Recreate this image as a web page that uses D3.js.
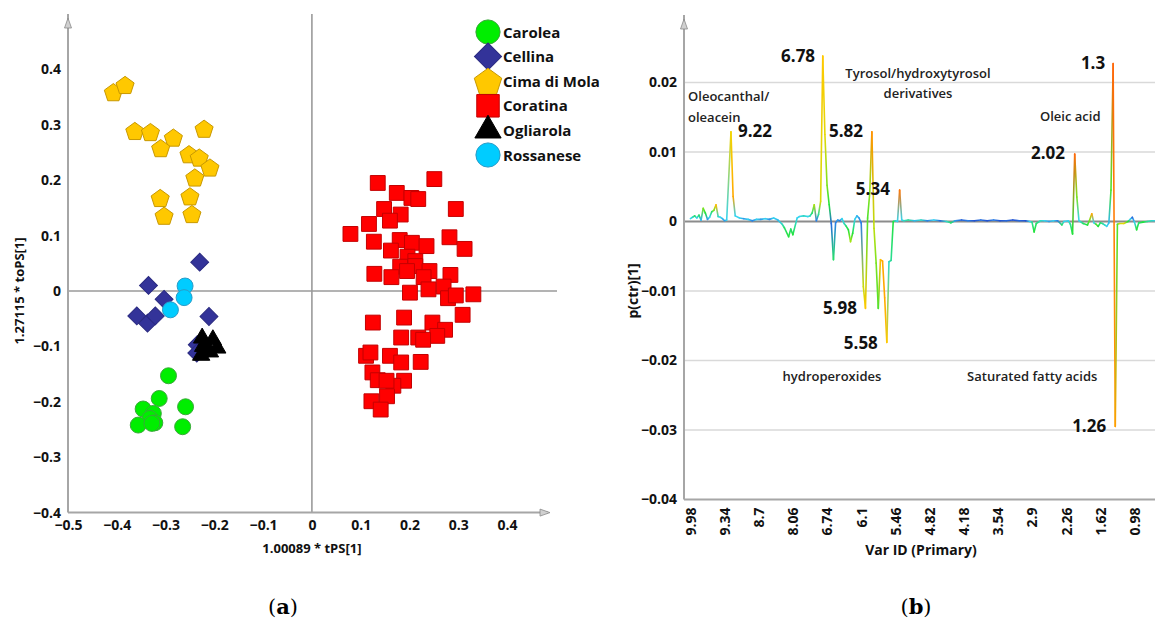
<!DOCTYPE html>
<html>
<head>
<meta charset="utf-8">
<script src="https://cdn.jsdelivr.net/npm/d3@7"></script>
<style>
  body { margin: 0; background: #fff; }
</style>
</head>
<body>
<svg id="chart"></svg>
<script>
// ---- data: (a) OPLS-DA score plot ----
const cultivars = ["Carolea", "Cellina", "Cima di Mola", "Coratina", "Ogliarola", "Rossanese"];

const carolea = [[-0.294,-0.153],[-0.313,-0.194],[-0.346,-0.213],[-0.259,-0.209],[-0.325,-0.221],
  [-0.332,-0.230],[-0.322,-0.238],[-0.356,-0.242],[-0.265,-0.245],[-0.328,-0.239]];
const cellina = [[-0.230,0.052],[-0.335,0.010],[-0.303,-0.015],[-0.359,-0.045],[-0.337,-0.058],
  [-0.321,-0.045],[-0.211,-0.046],[-0.235,-0.097],[-0.236,-0.112]];
const cimaDiMola = [[-0.407,0.359],[-0.383,0.372],[-0.363,0.289],[-0.331,0.287],[-0.221,0.293],
  [-0.284,0.277],[-0.310,0.258],[-0.252,0.247],[-0.231,0.241],[-0.209,0.223],[-0.240,0.205],
  [-0.311,0.168],[-0.250,0.171],[-0.303,0.136],[-0.246,0.139]];
const coratina = [[0.135,0.195],[0.251,0.202],[0.174,0.177],[0.204,0.168],[0.218,0.166],[0.295,0.148],
  [0.148,0.148],[0.182,0.138],[0.160,0.127],[0.117,0.121],[0.079,0.103],[0.127,0.089],[0.180,0.092],
  [0.205,0.087],[0.235,0.081],[0.282,0.097],[0.313,0.076],[0.162,0.073],[0.196,0.062],[0.212,0.054],
  [0.181,0.044],[0.212,0.045],[0.241,0.036],[0.128,0.031],[0.163,0.025],[0.195,0.036],[0.229,0.025],
  [0.284,0.029],[0.270,0.008],[0.201,-0.003],[0.239,0.003],[0.279,-0.013],[0.295,-0.008],[0.331,-0.006],
  [0.309,-0.043],[0.125,-0.057],[0.189,-0.048],[0.247,-0.057],[0.273,-0.070],[0.183,-0.084],
  [0.218,-0.084],[0.257,-0.081],[0.228,-0.088],[0.111,-0.117],[0.120,-0.111],[0.160,-0.117],
  [0.183,-0.129],[0.223,-0.128],[0.124,-0.147],[0.135,-0.161],[0.189,-0.162],[0.167,-0.171],
  [0.153,-0.162],[0.122,-0.199],[0.154,-0.190],[0.141,-0.214]];
const ogliarola = [[-0.225,-0.085],[-0.203,-0.088],[-0.194,-0.103],[-0.216,-0.106],[-0.227,-0.116],
  [-0.209,-0.110],[-0.223,-0.100]];
const rossanese = [[-0.260,0.009],[-0.262,-0.012],[-0.290,-0.034]];

const scoreTicksX = [-0.5, -0.4, -0.3, -0.2, -0.1, 0, 0.1, 0.2, 0.3, 0.4];
const scoreTicksY = [-0.4, -0.3, -0.2, -0.1, 0, 0.1, 0.2, 0.3, 0.4];

// ---- data: (b) loading line plot, [var index, p(ctr), colour level] ----
const varTickIndex = [0, 16, 32, 48, 64, 80, 96, 112, 128, 144, 160, 176, 192, 208];
const varTickLabels = ["9.98","9.34","8.7","8.06","6.74","6.1","5.46","4.82","4.18","3.54","2.9","2.26","1.62","0.98"];
const loadTicks = [-0.04, -0.03, -0.02, -0.01, 0, 0.01, 0.02];

const spectrum = [
  [0,0.0004,0.3],[1,0.0006,0.35],[2,0.0008,0.45],[3,0.0005,0.3],[4,0.0009,0.45],[5,0.0002,0.25],
  [6,0.0019,0.6],[7,0.0012,0.5],[8,0.0003,0.2],[9,0.0006,0.3],[10,0.0014,0.45],[11,0.0016,0.6],
  [12,0.0024,0.82],[13,0.0007,0.35],[14,0.0006,0.3],[15,0.0004,0.25],[16,0.0001,0.2],[17,0.0002,0.3],
  [19,0.0129,0.76],[20,0.0036,0.86],[21,0.0008,0.3],[23,0.0005,0.3],[25,0.0004,0.2],[27,0.0003,0.3],
  [29,0.0001,0.15],[31,0.0003,0.3],[33,0.0003,0.2],[35,0.0004,0.3],[37,0.0003,0.18],[39,0.0005,0.3],
  [41,0.0002,0.25],[43,-0.0004,0.35],[44,-0.0009,0.45],[46,-0.0022,0.5],[47,-0.0011,0.45],
  [48,-0.0019,0.5],[50,0.0005,0.3],[51,0.0007,0.3],[53,0.0008,0.35],[55,0.0007,0.3],[56,0.0008,0.35],
  [57,0.0012,0.45],[58,0.0024,0.65],[59,0.0001,0.15],[60,0.0010,0.4],[61,0.0029,0.72],
  [62,0.0238,0.8],[63,0.0125,0.74],[64,0.0052,0.6],[65,0.0024,0.5],[66,-0.0003,0.1],
  [67,-0.0055,0.45],[68,-0.0002,0.15],[69,0.0002,0.2],[70,0.0001,0.15],[71,0.0004,0.3],
  [72,-0.0003,0.35],[73,-0.0007,0.45],[74,-0.0012,0.5],[75,-0.0029,0.65],[76,-0.0017,0.5],
  [77,0.0003,0.3],[78,0.0008,0.25],[79,0.0005,0.2],[80,-0.0002,0.15],[81,-0.0094,0.7],
  [82,-0.0125,0.8],[83,0.0005,0.55],[84,0.0041,0.62],[85,0.0129,0.9],[86,-0.0010,0.68],
  [87,-0.0060,0.6],[88,-0.0125,0.55],[89,-0.0055,0.82],[90,-0.0057,0.86],[91,-0.0110,0.86],
  [92,-0.0174,0.8],[93,-0.0058,0.35],[94,-0.0056,0.4],[95,0.0000,0.5],[96,0.0001,0.35],
  [97,0.0000,0.3],[98,0.0045,0.94],[99,0.0002,0.3],
  [100,0.0001,0.35],[102,0.0002,0.4],[105,0.0001,0.25],[108,0.0002,0.35],[111,0.0001,0.15],
  [114,0.0002,0.3],[117,0.0001,0.1],[120,0.0000,0.35],[122,-0.0002,0.45],[124,0.0001,0.2],
  [127,0.0002,0.08],[130,0.0001,0.15],[133,0.0001,0.05],[136,0.0002,0.12],[139,0.0001,0.05],
  [142,0.0002,0.15],[145,0.0001,0.05],[148,0.0001,0.1],[151,0.0002,0.05],[154,0.0001,0.1],
  [157,0.0001,0.05],[159,0.0000,0.3],[160,-0.0001,0.4],[161,-0.0015,0.5],[162,-0.0003,0.45],
  [164,0.0001,0.35],[166,0.0001,0.3],[168,0.0000,0.2],[170,0.0001,0.3],[172,0.0001,0.15],
  [174,-0.0005,0.45],[175,0.0000,0.3],[177,0.0001,0.3],[178,-0.0004,0.4],[179,-0.0018,0.5],
  [180,0.0097,0.96],[181,0.0035,0.6],[182,0.0001,0.3],[184,-0.0003,0.45],[186,-0.0005,0.5],
  [187,0.0002,0.6],[188,0.0011,0.86],[189,-0.0002,0.3],[190,-0.0004,0.55],[191,-0.0007,0.5],
  [192,-0.0002,0.45],[193,-0.0003,0.4],[194,-0.0005,0.35],[195,-0.0007,0.3],[196,-0.0002,0.25],
  [197,0.0045,0.55],[198,0.0227,0.96],[199,-0.0295,0.88],[200,-0.0004,0.55],[201,-0.0003,0.7],
  [203,-0.0003,0.75],[205,0.0000,0.5],[206,0.0003,0.3],[207,0.0006,0.1],[208,-0.0001,0.3],
  [209,-0.0012,0.5],[210,-0.0002,0.45],[212,-0.0001,0.5],[214,0.0000,0.4],[216,0.0001,0.35],
  [218,0.0001,0.3]
];

// annotation texts placed in data units [var index, p(ctr)]
const peakLabels = [
  { t: "9.22", i: 22.3, v: 0.0122, a: "start" },
  { t: "6.78", i: 58.4, v: 0.0229, a: "end" },
  { t: "5.82", i: 64.9, v: 0.0122, a: "start" },
  { t: "5.34", i: 77.5, v: 0.0038, a: "start" },
  { t: "5.98", i: 78.0, v: -0.0133, a: "end" },
  { t: "5.58", i: 87.8, v: -0.0183, a: "end" },
  { t: "2.02", i: 159.5, v: 0.0090, a: "start" },
  { t: "1.3", i: 182.9, v: 0.0219, a: "start" },
  { t: "1.26", i: 178.8, v: -0.0303, a: "start" }
];
const groupLabels = [
  { t: "Oleocanthal/", i: -1.1, v: 0.0173, a: "start" },
  { t: "oleacein", i: -1.1, v: 0.0143, a: "start" },
  { t: "Tyrosol/hydroxytyrosol", i: 106.6, v: 0.0206, a: "middle" },
  { t: "derivatives", i: 106.6, v: 0.0178, a: "middle" },
  { t: "Oleic acid", i: 177.9, v: 0.0145, a: "middle" },
  { t: "hydroperoxides", i: 66.3, v: -0.0230, a: "middle" },
  { t: "Saturated fatty acids", i: 160.1, v: -0.0230, a: "middle" }
];

// ---- render ----
const W = 1155, H = 628;
const FONT = '"Open Sans", "Noto Sans", "DejaVu Sans", sans-serif';
const AXIS = "#a6a6a6";

const svg = d3.select("#chart")
  .attr("width", W).attr("height", H)
  .style("font-family", FONT);

svg.append("rect").attr("width", W).attr("height", H).attr("fill", "#fff");

function arrowUp(g, x, y) {
  g.append("path")
    .attr("d", `M${x},${y} L${x - 3.5},${y + 10} L${x + 3.5},${y + 10} Z`)
    .attr("fill", "#d0d0d0").attr("stroke", "#8a8a8a").attr("stroke-width", 0.8);
}
function arrowRight(g, x, y) {
  g.append("path")
    .attr("d", `M${x},${y} L${x - 10},${y - 3.5} L${x - 10},${y + 3.5} Z`)
    .attr("fill", "#d0d0d0").attr("stroke", "#8a8a8a").attr("stroke-width", 0.8);
}

// ======== (a) score plot ========
const xA = d3.scaleLinear().domain([-0.5, 0.484]).range([68, 548]);
const yA = d3.scaleLinear().domain([-0.4, 0.5]).range([512.6, 14]);
const gA = svg.append("g");

// zero lines
gA.append("line").attr("x1", xA(0)).attr("x2", xA(0)).attr("y1", yA(0.5)).attr("y2", yA(-0.4))
  .attr("stroke", "#9a9a9a").attr("stroke-width", 1.6);
gA.append("line").attr("x1", xA(-0.5)).attr("x2", 557).attr("y1", yA(0)).attr("y2", yA(0))
  .attr("stroke", "#9a9a9a").attr("stroke-width", 1.6);

// axes
const axLeft = gA.append("g").attr("transform", `translate(${xA(-0.5)},0)`)
  .call(d3.axisLeft(yA).tickValues(scoreTicksY).tickSize(0).tickPadding(7)
    .tickFormat(d => d === 0 ? "0" : d3.format(".1f")(d)));
const axBottom = gA.append("g").attr("transform", `translate(0,${yA(-0.4)})`)
  .call(d3.axisBottom(xA).tickValues(scoreTicksX).tickSize(0).tickPadding(7)
    .tickFormat(d => d === 0 ? "0" : d3.format(".1f")(d)));
[axLeft, axBottom].forEach(a => {
  a.select(".domain").attr("stroke", AXIS).attr("stroke-width", 2);
  a.selectAll("text").attr("font-family", FONT).attr("font-size", 14)
    .attr("font-weight", 700).attr("fill", "#111");
});
axLeft.select(".domain").attr("d", `M0,${yA(-0.4)}V${yA(0.5)}`);
axBottom.select(".domain").attr("d", `M${xA(-0.5)},0H${xA(0.484)}`);
arrowUp(gA, xA(-0.5), yA(0.5) + 4);
arrowRight(gA, xA(0.484) + 2, yA(-0.4));

gA.append("text").attr("x", xA(0)).attr("y", 553).attr("text-anchor", "middle")
  .attr("font-size", 13).attr("font-weight", 700).attr("fill", "#111")
  .text("1.00089 * tPS[1]");
gA.append("text").attr("transform", `translate(24,${yA(0)}) rotate(-90)`)
  .attr("text-anchor", "middle").attr("font-size", 13).attr("font-weight", 700).attr("fill", "#111")
  .text("1.27115 * toPS[1]");

const pentagon = {
  draw(ctx, size) {
    const r = Math.sqrt(size / 2.378);
    for (let k = 0; k < 5; k++) {
      const ang = -Math.PI / 2 + k * 2 * Math.PI / 5;
      const px = r * Math.cos(ang), py = r * Math.sin(ang) + r * 0.1;
      if (k === 0) ctx.moveTo(px, py); else ctx.lineTo(px, py);
    }
    ctx.closePath();
  }
};

const styles = {
  "Carolea":      { data: carolea,    type: d3.symbolCircle,   size: 200, fill: "#00ee00", stroke: "#3aa83a", rot: 0 },
  "Cellina":      { data: cellina,    type: d3.symbolSquare,   size: 160, fill: "#333399", stroke: "#2a2a80", rot: 45 },
  "Cima di Mola": { data: cimaDiMola, type: pentagon,          size: 215, fill: "#ffc800", stroke: "#c89800", rot: 0 },
  "Coratina":     { data: coratina,   type: d3.symbolSquare,   size: 220, fill: "#ff0000", stroke: "#c40000", rot: 0 },
  "Ogliarola":    { data: ogliarola,  type: d3.symbolTriangle, size: 130, fill: "#000000", stroke: "#000000", rot: 0 },
  "Rossanese":    { data: rossanese,  type: d3.symbolCircle,   size: 200, fill: "#00ccff", stroke: "#2a9cc8", rot: 0 }
};

const drawOrder = ["Cellina", "Cima di Mola", "Rossanese", "Ogliarola", "Carolea", "Coratina"];
drawOrder.forEach(name => {
  const s = styles[name];
  gA.append("g").selectAll("path").data(s.data).join("path")
    .attr("transform", d => `translate(${xA(d[0])},${yA(d[1])}) rotate(${s.rot})`)
    .attr("d", d3.symbol().type(s.type).size(s.size))
    .attr("fill", s.fill).attr("stroke", s.stroke).attr("stroke-width", 1);
});

// legend
const legend = gA.append("g").attr("transform", "translate(488,32)");
const legRow = legend.selectAll("g").data(cultivars).join("g")
  .attr("transform", (d, i) => `translate(0,${i * 24.6})`);
legRow.append("path")
  .attr("transform", d => `rotate(${styles[d].rot})`)
  .attr("d", d => d3.symbol().type(styles[d].type).size(styles[d].size * 2.3)())
  .attr("fill", d => styles[d].fill).attr("stroke", d => styles[d].stroke).attr("stroke-width", 1);
legRow.append("text").attr("x", 15).attr("y", 5.5)
  .attr("font-size", 15).attr("font-weight", 700).attr("fill", "#111")
  .text(d => d);

// ======== (b) loading line plot ========
const xB = d3.scaleLinear().domain([-3, 221]).range([684, 684 + 224 * 2.135]);
const yB = d3.scaleLinear().domain([-0.04, 0.0297]).range([499.5, 15]);
const gB = svg.append("g");

// grid
gB.append("g").selectAll("line").data(loadTicks.filter(d => d !== 0 && d !== -0.04)).join("line")
  .attr("x1", 684).attr("x2", W).attr("y1", d => yB(d)).attr("y2", d => yB(d))
  .attr("stroke", "#d9d9d9").attr("stroke-width", 1.5);
gB.append("line").attr("x1", 684).attr("x2", W).attr("y1", yB(0)).attr("y2", yB(0))
  .attr("stroke", "#8c8c8c").attr("stroke-width", 2);

const axBL = gB.append("g").attr("transform", "translate(684,0)")
  .call(d3.axisLeft(yB).tickValues(loadTicks).tickSize(0).tickPadding(7)
    .tickFormat(d => d === 0 ? "0" : d3.format(".2f")(d)));
axBL.select(".domain").attr("d", `M0,${yB(-0.04)}V${yB(0.0297)}`)
  .attr("stroke", AXIS).attr("stroke-width", 2);
const axBB = gB.append("g").attr("transform", `translate(0,${yB(-0.04)})`)
  .call(d3.axisBottom(xB).tickValues(varTickIndex).tickSize(0)
    .tickFormat((d, i) => varTickLabels[i]));
axBB.select(".domain").attr("d", `M684,0H${W}`).attr("stroke", AXIS).attr("stroke-width", 2);
[axBL, axBB].forEach(a => a.selectAll("text").attr("font-family", FONT).attr("font-size", 14)
  .attr("font-weight", 700).attr("fill", "#111"));
axBB.selectAll("text")
  .attr("transform", "rotate(-90)")
  .attr("text-anchor", "end").attr("x", -8).attr("y", 0).attr("dy", "0.35em");
arrowUp(gB, 684, yB(0.0297) + 4);

gB.append("text").attr("x", 921).attr("y", 555).attr("text-anchor", "middle")
  .attr("font-size", 14).attr("font-weight", 700).attr("fill", "#111")
  .text("Var ID (Primary)");
gB.append("text").attr("transform", `translate(638,${yB(-0.01)}) rotate(-90)`)
  .attr("text-anchor", "middle").attr("font-size", 14).attr("font-weight", 700).attr("fill", "#111")
  .text("p(ctr)[1]");

// coloured line, one gradient segment per pair of points
const jet = d3.scaleLinear()
  .domain([0, 0.15, 0.3, 0.5, 0.65, 0.78, 0.9, 1])
  .range(["#1d3cc8", "#2a7fe6", "#35d4f0", "#22e33c", "#a8e312", "#ffd200", "#ff9300", "#ff4a10"]);
const segs = d3.pairs(spectrum);
const defs = svg.append("defs");
defs.selectAll("linearGradient").data(segs).join("linearGradient")
  .attr("id", (d, k) => "sg" + k)
  .attr("gradientUnits", "userSpaceOnUse")
  .attr("x1", d => xB(d[0][0])).attr("y1", d => yB(d[0][1]))
  .attr("x2", d => xB(d[1][0])).attr("y2", d => yB(d[1][1]))
  .call(lg => {
    lg.append("stop").attr("offset", "0%").attr("stop-color", d => jet(d[0][2]));
    lg.append("stop").attr("offset", "100%").attr("stop-color", d => jet(d[1][2]));
  });
gB.append("g").selectAll("line").data(segs).join("line")
  .attr("x1", d => xB(d[0][0])).attr("y1", d => yB(d[0][1]))
  .attr("x2", d => xB(d[1][0])).attr("y2", d => yB(d[1][1]))
  .attr("stroke", (d, k) => `url(#sg${k})`)
  .attr("stroke-width", 1.6).attr("stroke-linecap", "round");

gB.append("g").selectAll("text").data(peakLabels).join("text")
  .attr("x", d => xB(d.i)).attr("y", d => yB(d.v)).attr("text-anchor", d => d.a)
  .attr("font-size", 17).attr("font-weight", 700).attr("fill", "#111")
  .text(d => d.t);
gB.append("g").selectAll("text").data(groupLabels).join("text")
  .attr("x", d => xB(d.i)).attr("y", d => yB(d.v)).attr("text-anchor", d => d.a)
  .attr("font-size", 13).attr("font-weight", 600).attr("fill", "#222")
  .text(d => d.t);

// panel letters
[{ t: "a", x: 283 }, { t: "b", x: 916 }].forEach(p => {
  const tx = svg.append("text").attr("x", p.x).attr("y", 614).attr("text-anchor", "middle")
    .attr("font-family", '"DejaVu Serif", "Liberation Serif", serif').attr("font-size", 21).attr("fill", "#000");
  tx.append("tspan").text("(");
  tx.append("tspan").attr("font-weight", 700).text(p.t);
  tx.append("tspan").text(")");
});
</script>
</body>
</html>
